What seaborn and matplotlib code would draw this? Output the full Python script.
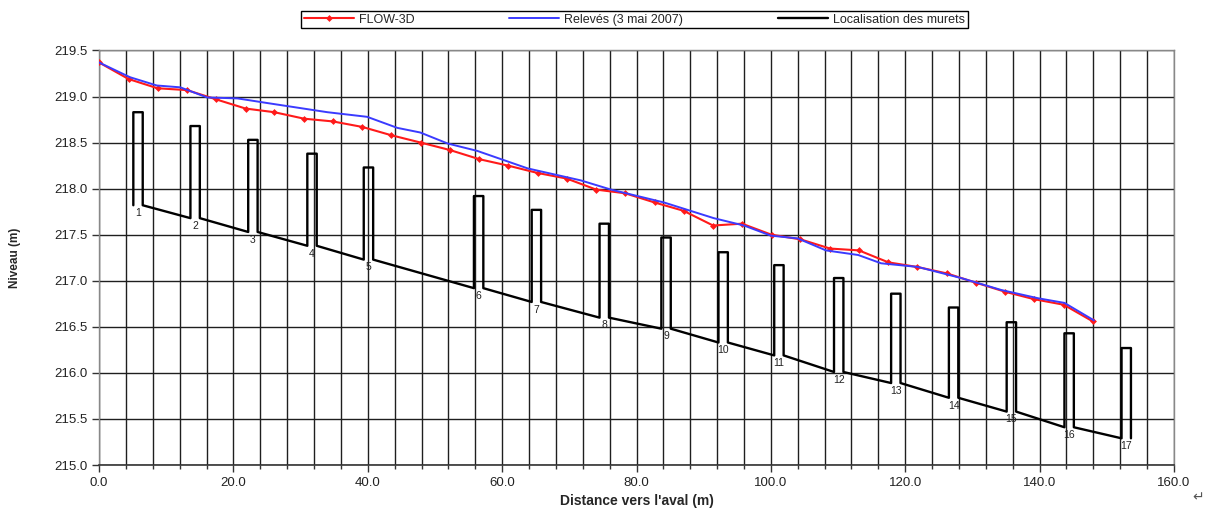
import numpy as np
import pandas as pd
import matplotlib
matplotlib.use("Agg")
import matplotlib.pyplot as plt
from matplotlib.ticker import MultipleLocator, FormatStrFormatter
import seaborn as sns

# ---------------- data ----------------
flow_x = [0.0, 4.4, 8.7, 13.1, 17.4, 21.8, 26.1, 30.5, 34.8, 39.2, 43.5, 47.9,
          52.2, 56.6, 60.9, 65.3, 69.6, 74.0, 78.3, 82.7, 87.0, 91.4, 95.7,
          100.1, 104.4, 108.8, 113.1, 117.5, 121.8, 126.2, 130.5, 134.9,
          139.2, 143.6, 147.9]
flow_y = [219.37, 219.19, 219.09, 219.07, 218.97, 218.87, 218.83, 218.76,
          218.73, 218.67, 218.58, 218.50, 218.42, 218.32, 218.25, 218.17,
          218.11, 217.99, 217.95, 217.85, 217.76, 217.60, 217.62, 217.50,
          217.45, 217.35, 217.33, 217.20, 217.15, 217.08, 216.98, 216.88,
          216.80, 216.74, 216.56]

releve_x = [0.0, 4.6, 8.6, 12.1, 16.1, 20.6, 25.0, 29.5, 34.0, 39.9, 44.4,
            47.8, 51.9, 56.3, 63.8, 71.7, 76.2, 84.1, 91.5, 96.0, 100.0,
            104.0, 108.2, 113.0, 116.4, 121.9, 128.3, 134.3, 139.8, 143.7,
            148.1]
releve_y = [219.37, 219.21, 219.12, 219.10, 218.99, 218.98, 218.93, 218.88,
            218.83, 218.78, 218.66, 218.61, 218.49, 218.41, 218.22, 218.09,
            217.99, 217.85, 217.68, 217.60, 217.49, 217.46, 217.33, 217.28,
            217.19, 217.15, 217.03, 216.90, 216.81, 216.76, 216.57]

wall_num = list(range(1, 18))
wall_x = [5.8, 14.3, 22.9, 31.7, 40.1, 56.5, 65.1, 75.2, 84.4, 92.9, 101.2,
          110.1, 118.6, 127.2, 135.8, 144.4, 152.9]
wall_top = [218.83, 218.68, 218.53, 218.38, 218.23, 217.92, 217.77, 217.62,
            217.47, 217.31, 217.17, 217.03, 216.86, 216.71, 216.55, 216.43,
            216.27]
wall_bottom = [217.82, 217.68, 217.53, 217.38, 217.23, 216.92, 216.77,
               216.60, 216.48, 216.33, 216.19, 216.01, 215.89, 215.73,
               215.58, 215.41, 215.29]
WALL_HALF = 0.7

legend_labels = ["FLOW-3D", "Relevés (3 mai 2007)", "Localisation des murets"]
x_label = "Distance vers l'aval (m)"
y_label = "Niveau (m)"

# ---------------- style ----------------
sns.set_style("white")
plt.rcParams["font.family"] = ["Liberation Sans", "DejaVu Sans"]

fig = plt.figure(figsize=(12.11, 5.08), dpi=100)
ax = fig.add_axes([0.0818, 0.0846, 0.9694 - 0.0818, 0.9006 - 0.0846])

# wall path built from the wall arrays
px, py = [], []
for xc, t, b in zip(wall_x, wall_top, wall_bottom):
    px += [xc - WALL_HALF, xc - WALL_HALF, xc + WALL_HALF, xc + WALL_HALF]
    py += [b, t, t, b]
walls = pd.DataFrame({"x": px, "y": py})

flow = pd.DataFrame({"x": flow_x, "y": flow_y})
rel = pd.DataFrame({"x": releve_x, "y": releve_y})

sns.lineplot(data=walls, x="x", y="y", sort=False, estimator=None, ax=ax,
             color="black", linewidth=1.7, label=legend_labels[2], zorder=3)
sns.lineplot(data=flow, x="x", y="y", sort=False, estimator=None, ax=ax,
             color="#ff1a1a", linewidth=1.5, marker="D", markersize=3.5,
             markeredgewidth=0, label=legend_labels[0], zorder=4)
sns.lineplot(data=rel, x="x", y="y", sort=False, estimator=None, ax=ax,
             color="#3b3bff", linewidth=1.4, label=legend_labels[1], zorder=5)

for n, xc, b in zip(wall_num, wall_x, wall_bottom):
    ax.annotate(str(n), (xc, b), xytext=(0, -2), textcoords="offset points",
                ha="center", va="top", fontsize=7.5, color="#222222")

ax.set_xlim(0, 160)
ax.set_ylim(215.0, 219.5)
ax.xaxis.set_major_locator(MultipleLocator(20))
ax.xaxis.set_minor_locator(MultipleLocator(4))
ax.yaxis.set_major_locator(MultipleLocator(0.5))
ax.xaxis.set_major_formatter(FormatStrFormatter("%.1f"))
ax.yaxis.set_major_formatter(FormatStrFormatter("%.1f"))

ax.grid(which="major", axis="both", color="#1f1f1f", linewidth=1.0)
ax.grid(which="minor", axis="x", color="#1f1f1f", linewidth=1.0)
ax.set_axisbelow(True)

for side in ["top", "right", "left"]:
    ax.spines[side].set_color("#888888")
    ax.spines[side].set_linewidth(1.0)
ax.spines["bottom"].set_color("#333333")
ax.spines["bottom"].set_linewidth(1.2)

ax.tick_params(axis="both", which="major", direction="out", length=5,
               width=1, color="#333333", labelsize=9.5, labelcolor="#222222",
               bottom=True, left=True)
ax.tick_params(axis="x", which="minor", direction="out", length=3, width=1,
               color="#333333", bottom=True)

ax.set_xlabel(x_label, fontsize=10, fontweight="bold", labelpad=4)
ax.set_ylabel(y_label, fontsize=8.5, fontweight="bold", labelpad=24)

handles, labels = ax.get_legend_handles_labels()
order = [labels.index(l) for l in legend_labels]
ax.get_legend().remove()
fig.legend([handles[i] for i in order], [labels[i] for i in order],
           loc="center", bbox_to_anchor=(0.524, 0.961), ncol=3,
           frameon=True, fancybox=False, edgecolor="black", fontsize=9,
           handlelength=4, columnspacing=7.6, borderpad=0.2,
           handletextpad=0.4, framealpha=1)

fig.text(0.994, 0.008, "↵", fontsize=10, color="#555555", ha="right",
         va="bottom", family=["DejaVu Sans"])

fig.savefig("out.png", dpi=100, facecolor="white")
